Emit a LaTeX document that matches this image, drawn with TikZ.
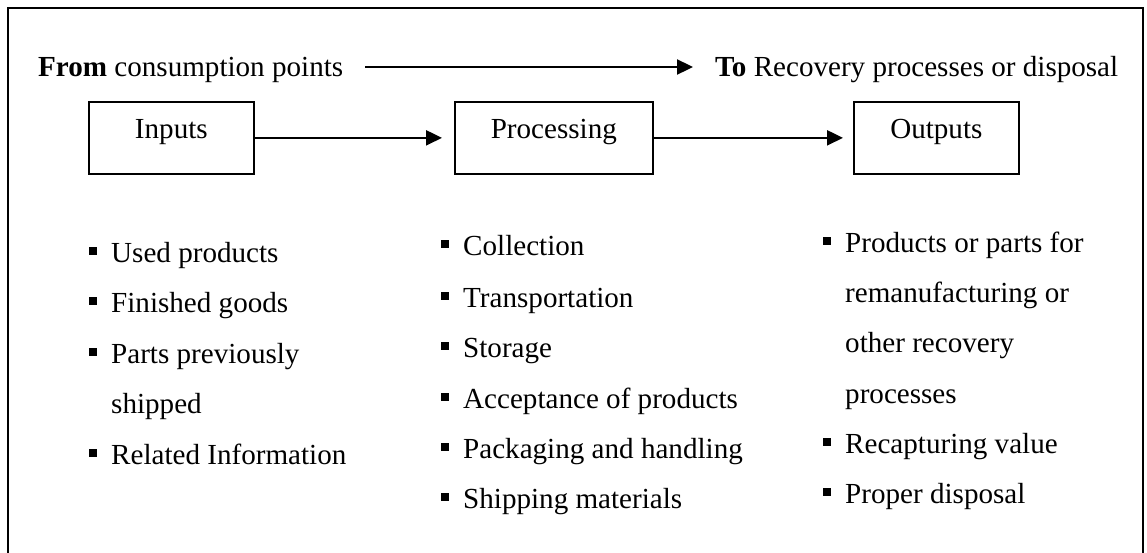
\documentclass[tikz,border=0pt]{standalone}
\usepackage{fontspec}
\setmainfont{Liberation Serif}
\usetikzlibrary{arrows.meta}
% small filled square hung to the left of an item's first line
\newcommand\sqbullet{\llap{\rule[7pt]{8pt}{8pt}\hspace{14pt}}}
\tikzset{
  every node/.style={inner sep=0pt, font=\fontsize{29.1}{34}\selectfont},
  heading/.style={anchor=base west, text height=24pt, text depth=6pt},
  entry/.style={anchor=base west},
  stage/.style={draw, line width=1.7pt, anchor=north west,
                text height=37pt, text depth=35pt},
  flow/.style={line width=2.3pt, -{Triangle[length=16pt,width=15pt]}},
  frame/.style={line width=1.7pt}
}
\begin{document}
\begin{tikzpicture}[x=1pt,y=-1pt]
\useasboundingbox (0,0) rectangle (1147,552);
\clip (0,0) rectangle (1147,552);
\draw[frame] (8,8) rectangle (1143,556);

% direction of the flow
\node[heading] (from) at (38,76) {\textbf{From} consumption points};
\node[heading] (to) at (715,76) {\textbf{To} Recovery processes or disposal};
\draw[flow, shorten <=22pt, shorten >=22pt] (from.east) -- (to.west);

% the three stages
\node[stage, minimum width=165pt] (in) at (88,101) {Inputs};
\node[stage, minimum width=198pt] (proc) at (454,101) {Processing};
\node[stage, minimum width=165pt] (out) at (853,101) {Outputs};
\draw[flow, shorten >=12pt] (in.east) -- (proc.west);
\draw[flow, shorten >=10pt] (proc.east) -- (out.west);

% inputs
\node[entry] (l1) at (111,262) {\sqbullet Used products};
\node[entry] (l2) at (111,312) {\sqbullet Finished goods};
\node[entry] (l3) at (111,363) {\sqbullet Parts previously};
\node[entry] (l4) at (111,413) {shipped};
\node[entry] (l5) at (111,464) {\sqbullet Related Information};

% processing
\node[entry] (m1) at (463,255) {\sqbullet Collection};
\node[entry] (m2) at (463,307) {\sqbullet Transportation};
\node[entry] (m3) at (463,357) {\sqbullet Storage};
\node[entry] (m4) at (463,408) {\sqbullet Acceptance of products};
\node[entry] (m5) at (463,458) {\sqbullet Packaging and handling};
\node[entry] (m6) at (463,508) {\sqbullet Shipping materials};

% outputs
\node[entry] (r1) at (845,252) {\sqbullet Products or parts for};
\node[entry] (r2) at (845,302) {remanufacturing or};
\node[entry] (r3) at (845,352) {other recovery};
\node[entry] (r4) at (845,403) {processes};
\node[entry] (r5) at (845,453) {\sqbullet Recapturing value};
\node[entry] (r6) at (845,503) {\sqbullet Proper disposal};
\end{tikzpicture}
\end{document}
